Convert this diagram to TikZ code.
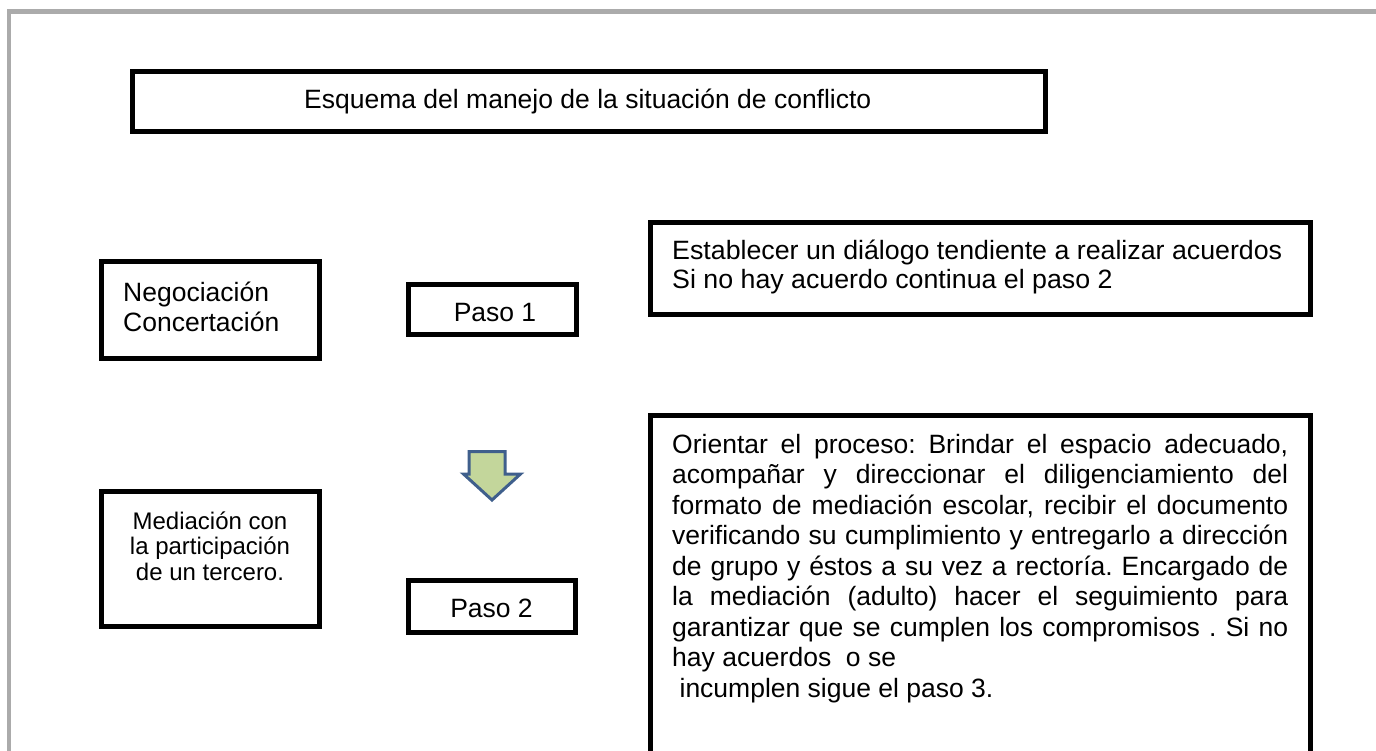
\documentclass[tikz,border=0pt]{standalone}
\usepackage{fontspec}
\setmainfont{Liberation Sans}
\frenchspacing
\begin{document}
\begin{tikzpicture}[x=1pt,y=-1pt,
  box/.style={draw=black,line width=5pt},
  frameline/.style={draw=framegray,line width=4.5pt},
  txt/.style={inner sep=0pt,font=\fontsize{26.5}{30.5}\selectfont},
  smalltxt/.style={inner sep=0pt,align=center,font=\fontsize{24}{25.5}\selectfont},
  arrowshape/.style={draw=arrowblue,fill=arrowgreen,line width=3pt,line join=miter}]
\definecolor{framegray}{HTML}{ABABAB}
\definecolor{arrowblue}{HTML}{3F5F8C}
\definecolor{arrowgreen}{HTML}{C3D69B}
\useasboundingbox[fill=white] (0,0) rectangle (1376,751);
\clip (0,0) rectangle (1376,751);
% page frame
\coordinate (ftr) at (1380,11.7);
\coordinate (ftl) at (9,11.7);
\coordinate (fbl) at (9,760);
\draw[frameline] (ftr) -- (ftl) -- (fbl);
% boxes
\draw[box] (132,72) rectangle (1045.5,131.5);
\node[txt,anchor=base west] (title) at (304,109) {Esquema del manejo de la situación de conflicto};
\draw[box] (101.5,261.5) rectangle (319,358.5);
\node[txt,anchor=base west] (neg1) at (123,301.7) {Negociación};
\node[txt,anchor=base west] (neg2) at (123,331.7) {Concertación};
\draw[box] (408,284.5) rectangle (576,334.5);
\node[txt,anchor=base] (paso1) at (495,321) {Paso 1};
\draw[box] (650,222.5) rectangle (1310,314.5);
\node[txt,anchor=base west,xscale=1.01,transform shape] (est1) at (672,260) {Establecer un diálogo tendiente a realizar acuerdos};
\node[txt,anchor=base west,xscale=1.01,transform shape] (est2) at (672,289) {Si no hay acuerdo continua el paso 2};
\draw[box] (101.5,491.5) rectangle (319.5,626.5);
\node[smalltxt,anchor=base] (med) at (210,580) {Mediación con\\la participación\\de un tercero.};
\draw[box] (408,580.5) rectangle (575.5,632.5);
\node[txt,anchor=base] (paso2) at (491.5,617) {Paso 2};
\draw[box] (650.5,415.5) rectangle (1310,770);
\node[txt,anchor=north west,text width=616pt,align=justify] (orient) at (672,434)
  {\hyphenpenalty=10000 \exhyphenpenalty=10000 \hbadness=10000
   Orientar el proceso: Brindar el espacio adecuado,\linebreak
   acompañar y direccionar el diligenciamiento del\linebreak
   formato de mediación escolar, recibir el documento\linebreak
   verificando su cumplimiento y entregarlo a dirección\linebreak
   de grupo y éstos a su vez a rectoría. Encargado de\linebreak
   la mediación (adulto) hacer el seguimiento para\linebreak
   garantizar que se cumplen los compromisos . Si no\linebreak
   hay acuerdos\ \ o se\newline
   \hspace*{0.28em}incumplen sigue el paso 3.};
% arrow
\coordinate (a1) at (469,451.5);
\coordinate (a2) at (505,451.5);
\coordinate (a3) at (505,474);
\coordinate (a4) at (520.5,474);
\coordinate (a5) at (492,500);
\coordinate (a6) at (463.5,474);
\coordinate (a7) at (469,474);
\draw[arrowshape] (a1) -- (a2) -- (a3) -- (a4) -- (a5) -- (a6) -- (a7) -- cycle;
\end{tikzpicture}
\end{document}
